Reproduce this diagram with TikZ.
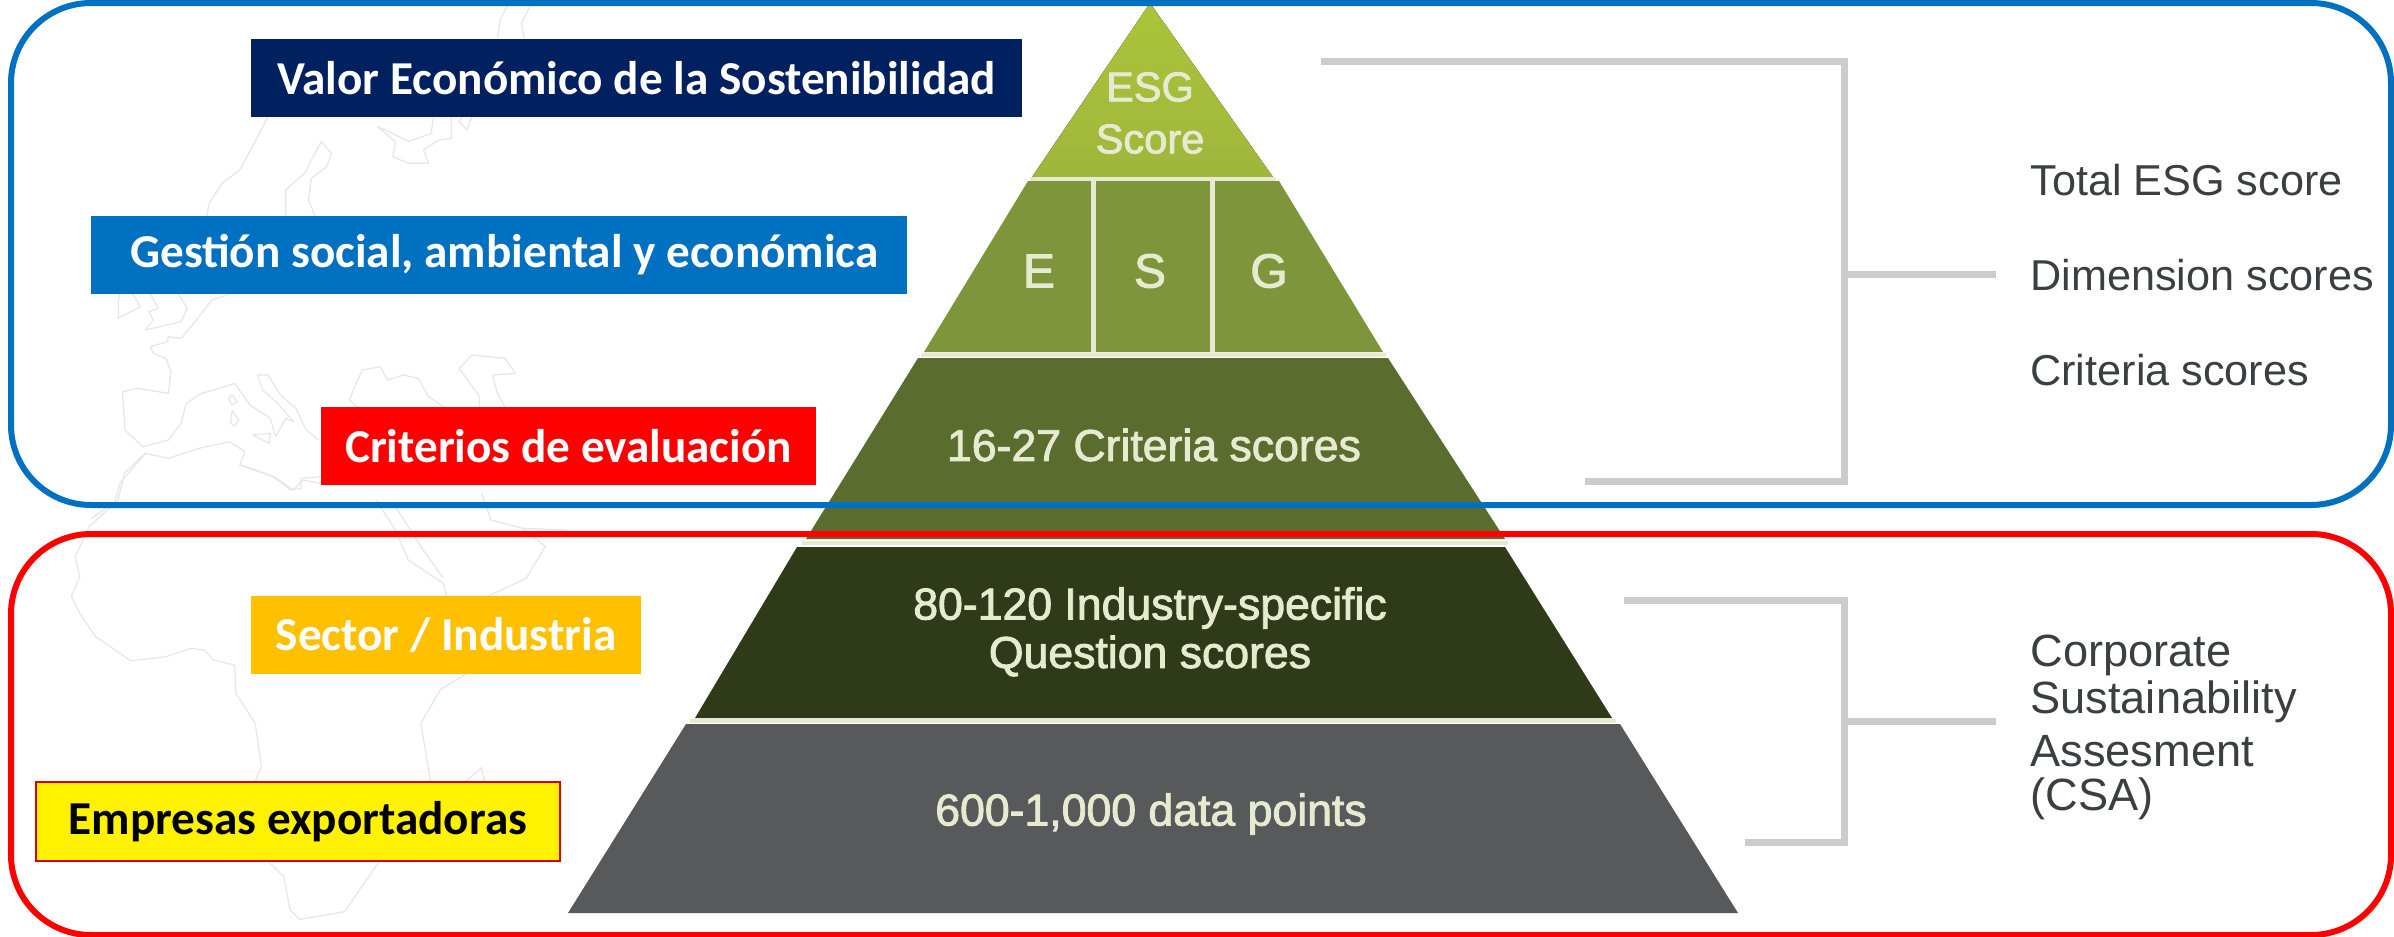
\documentclass[tikz,border=0pt]{standalone}
\usepackage{fontspec}
\setmainfont{Carlito}
\newfontfamily\grot{Liberation Sans}
\newfontfamily\grotm[FakeBold=2]{Liberation Sans}
\definecolor{navyb}{HTML}{002060}
\definecolor{blueb}{HTML}{0070C0}
\definecolor{orangeb}{HTML}{FFC000}
\definecolor{maplin}{HTML}{E6E6E6}
\definecolor{brk}{HTML}{CCCCCC}
\definecolor{cream}{HTML}{E6EAD0}
\definecolor{tiera}{HTML}{A0B63C}
\definecolor{tierat}{HTML}{ABC43A}
\definecolor{tierb}{HTML}{7F953B}
\definecolor{tierc}{HTML}{5B6C2F}
\definecolor{tierd}{HTML}{2F3A18}
\definecolor{tiere}{HTML}{58595B}
\definecolor{txtg}{HTML}{3A3F42}
\tikzset{
  lab/.style={inner sep=0pt,outer sep=0pt,font=\bfseries\fontsize{23.6}{28}\selectfont,text=white,anchor=center},
  tier/.style={text=cream,font=\grotm\fontsize{22.3}{26}\selectfont,inner sep=0pt,align=center},
  tierbig/.style={text=cream,font=\grotm\fontsize{24}{28}\selectfont,inner sep=0pt,align=center},
  tiertop/.style={text=cream,font=\grotm\fontsize{20.8}{24}\selectfont,inner sep=0pt,align=center},
  side/.style={text=txtg,font=\grot\fontsize{21.6}{26}\selectfont,inner sep=0pt,anchor=west,align=left},
  sidelow/.style={text=txtg,font=\grot\fontsize{22.6}{27}\selectfont,inner sep=0pt,anchor=west,align=left},
  brline/.style={draw=brk,line width=3.5pt},
  frame/.style={line width=3pt,rounded corners=40pt},
  mapl/.style={draw=maplin,line width=0.6pt,line join=round},
  gap/.style={draw=cream,line width=2.5pt},
  hgap/.style={draw=cream,line width=1.6pt},
}
\begin{document}
\begin{tikzpicture}[x=0.5pt,y=-0.5pt]
\useasboundingbox (0,0) rectangle (2394,937);
\fill[white] (0,0) rectangle (2394,937);
% faint map
\begin{scope}[x=0.2551pt,y=-0.16667pt]
\draw[mapl] (1040,15)--(1022,70)--(1028,120);
\draw[mapl] (995,15)--(980,60)--(975,115);
\draw[mapl] (525,350)--(505,410)--(470,510)--(435,550)--(410,610)--(405,650);
\draw[mapl] (560,650)--(560,570)--(600,515)--(610,480)--(630,425)--(650,460)--(640,500)--(610,535)--(605,600)--(618,650);
\draw[mapl] (740,380)--(775,425)--(770,470)--(800,490)--(840,490)--(830,450)--(860,420)--(885,415)--(885,350);
\draw[mapl] (850,350)--(845,400)--(800,425)--(770,400)--(740,380);
\draw[mapl] (925,350)--(915,390)--(900,365)--(905,350);
\draw[mapl] (260,882)--(275,920)--(232,955)--(232,900)--(235,882);
\draw[mapl] (295,882)--(310,925)--(292,935)--(300,960)--(285,990)--(355,965)--(367,925)--(350,882);
\draw[mapl] (450,882)--(415,900)--(385,960)--(355,1015)--(330,1010)--(328,1025)--(295,1040)--(300,1060)--(325,1075)--(335,1115)--(330,1180)--(270,1165)--(240,1175)--(245,1290)--(280,1340)--(330,1320)--(355,1270)--(365,1210)--(395,1180)--(430,1165)--(460,1150)--(490,1215)--(530,1255)--(540,1310)--(560,1255)--(575,1265)--(545,1210)--(515,1170)--(505,1125)--(525,1125)--(550,1185)--(580,1225)--(600,1290)--(625,1320);
\draw[mapl] (1010,1120)--(990,1075)--(925,1065)--(900,1105)--(940,1190)--(940,1221);
\draw[mapl] (1010,1120)--(965,1125)--(975,1180)--(990,1221);
\draw[mapl] (870,1221)--(840,1190)--(820,1135)--(790,1125)--(760,1140)--(745,1100)--(710,1110)--(695,1160)--(685,1200)--(700,1221);
\draw[mapl] (455,1185)--(465,1205)--(455,1215)--(448,1195)--cycle;
\draw[mapl] (455,1232)--(468,1260)--(460,1278)--(452,1270)--cycle;
\draw[mapl] (495,1305)--(530,1300)--(528,1330)--cycle;
\draw[mapl] (180,1555)--(225,1505)--(235,1450)--(285,1360)--(330,1375)--(390,1345)--(450,1325)--(480,1355)--(470,1395)--(535,1430)--(570,1470)--(590,1465)--(590,1435)--(630,1430);
\end{scope}
\begin{scope}[yshift=-225pt,x=0.31888pt,y=-0.16667pt]
\draw[mapl] (228,10)--(195,70)--(185,150)--(140,230)--(118,320)--(125,380)--(112,440)--(125,490)--(150,560)--(205,632)--(260,620)--(300,595)--(320,600)--(335,630)--(368,645)--(370,730)--(400,820)--(410,950)--(400,995);
\draw[mapl] (420,1233)--(445,1280)--(455,1380)--(470,1408)--(540,1385)--(595,1233);
\draw[mapl] (590,150)--(620,240)--(640,330)--(695,400)--(700,438);
\draw[mapl] (615,155)--(660,290)--(695,385);
\draw[mapl] (755,130)--(770,210)--(820,235)--(855,290)--(825,385)--(765,438);
\draw[mapl] (820,235)--(890,240);
\draw[mapl] (730,672)--(690,720)--(660,820)--(675,995);
\draw[mapl] (730,995)--(755,953)--(760,995);
\draw[mapl] (378,45)--(430,80)--(460,120)--(475,90)--(503,100);
\end{scope}
% pyramid
\fill[top color=tierat,bottom color=tiera] (1150,3)--(1273,177)--(1032,177)--cycle;
\fill[tierb] (1028,181)--(1279,181)--(1383,352)--(924,352)--cycle;
\fill[tierc] (918,358)--(1388,358)--(1505,539)--(806,539)--cycle;
\fill[tierd] (797,547)--(1505,547)--(1612,718)--(695,718)--cycle;
\fill[tiere] (686,724)--(1620,724)--(1738,913)--(568,913)--cycle;
\coordinate (sa) at (1093,181); \coordinate (sb) at (1093,352);
\coordinate (sc) at (1212,181); \coordinate (sd) at (1212,352);
\draw[gap] (sa)--(sb);
\draw[gap] (sc)--(sd);
\coordinate (ga) at (1030,179); \coordinate (gb) at (1276,179);
\coordinate (gc) at (921,355); \coordinate (gd) at (1386,355);
\coordinate (ge) at (802,543); \coordinate (gf) at (1508,543);
\coordinate (gg) at (690,721); \coordinate (gh) at (1616,721);
\draw[hgap] (ga)--(gb);
\draw[hgap] (gc)--(gd);
\draw[hgap] (ge)--(gf);
\draw[hgap] (gg)--(gh);
\node[tiertop] (esg) at (1150,87) {ESG};
\node[tiertop] (score) at (1150,139) {Score};
\node[tierbig] (e) at (1039,271) {E};
\node[tierbig] (s) at (1150,271) {S};
\node[tierbig] (g) at (1269,271) {G};
\node[tier] (crit) at (1154,445) {16-27 Criteria scores};
\node[tier] (ind) at (1150,608) {80-120 Industry-specific};
\node[tier] (que) at (1150,656) {Question scores};
\node[tier] (dat) at (1151,814) {600-1,000 data points};
% brackets
\coordinate (ua) at (1321,61); \coordinate (ub) at (1844,61);
\coordinate (uc) at (1844,481); \coordinate (ud) at (1585,481);
\coordinate (ue) at (1844,274); \coordinate (uf) at (1996,274);
\draw[brline] (ua)--(ub)--(uc)--(ud);
\draw[brline] (ue)--(uf);
\coordinate (la) at (1624,600); \coordinate (lb) at (1844,600);
\coordinate (lc) at (1844,842); \coordinate (ld) at (1745,842);
\coordinate (le) at (1844,721); \coordinate (lf) at (1996,721);
\draw[brline] (la)--(lb)--(lc)--(ld);
\draw[brline] (le)--(lf);
% side text
\node[side] (t1) at (2030,180) {Total ESG score};
\node[side] (t2) at (2030,275) {Dimension scores};
\node[side] (t3) at (2030,370) {Criteria scores};
\node[sidelow] (t4) at (2030,655) {Corporate};
\node[sidelow] (t5) at (2030,702) {Sustainability};
\node[sidelow] (t6) at (2030,751) {Assesment};
\node[sidelow] (t7) at (2030,799) {(CSA)};
% frames
\draw[frame,draw=blueb] (11,3) rectangle (2391,505);
\draw[frame,draw=red] (11,534) rectangle (2391,935);
% labels
\node[lab,fill=navyb,minimum width=385.5pt,minimum height=39pt] (l1) at (636.5,78) {Valor Económico de la Sostenibilidad\hspace{3pt}};
\node[lab,fill=blueb,minimum width=408pt,minimum height=39pt] (l2) at (499,255) {\hspace*{5.4pt}Gestión social, ambiental y económica};
\node[lab,fill=red,minimum width=247.5pt,minimum height=39pt] (l3) at (568.5,446) {Criterios de evaluación\hspace{2.3pt}};
\node[lab,fill=orangeb,minimum width=195pt,minimum height=39pt] (l4) at (446,635) {Sector / Industria};
\node[lab,fill=yellow,draw=red!85!black,line width=0.6pt,text=black,minimum width=262pt,minimum height=39.5pt] (l5) at (298,821.5) {Empresas exportadoras};
\end{tikzpicture}
\end{document}
